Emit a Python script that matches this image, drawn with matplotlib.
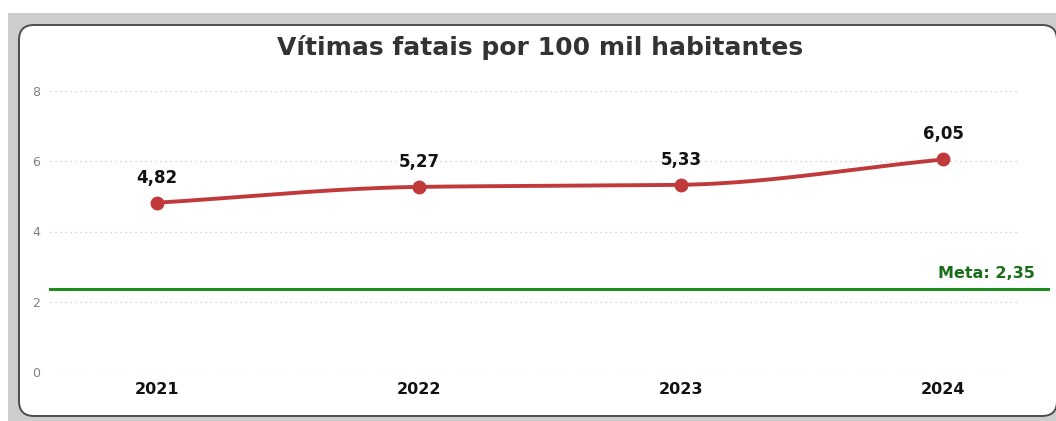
import numpy as np
import matplotlib.pyplot as plt
from matplotlib.patches import FancyBboxPatch, Rectangle

# data
anos = [2021, 2022, 2023, 2024]
vitimas = [4.82, 5.27, 5.33, 6.05]
rotulos = ['4,82', '5,27', '5,33', '6,05']
meta = 2.35
meta_txt = 'Meta: 2,35'
titulo = 'Vítimas fatais por 100 mil habitantes'
yticks = [0, 2, 4, 6, 8]

cor_linha = '#c0393b'
cor_meta = '#1e8c1e'


def monotone_curve(x, y, n=60):
    # monotone cubic (Fritsch-Carlson) between the data points, just for drawing
    x = np.asarray(x, float)
    y = np.asarray(y, float)
    h = np.diff(x)
    d = np.diff(y) / h
    m = np.zeros_like(y)
    m[0], m[-1] = d[0], d[-1]
    for i in range(1, len(y) - 1):
        if d[i - 1] * d[i] <= 0:
            m[i] = 0
        else:
            w1 = 2 * h[i] + h[i - 1]
            w2 = h[i] + 2 * h[i - 1]
            m[i] = (w1 + w2) / (w1 / d[i - 1] + w2 / d[i])
    xs, ys = [], []
    for i in range(len(x) - 1):
        t = np.linspace(0, 1, n)
        h00 = 2 * t**3 - 3 * t**2 + 1
        h10 = t**3 - 2 * t**2 + t
        h01 = -2 * t**3 + 3 * t**2
        h11 = t**3 - t**2
        xs.append(x[i] + t * h[i])
        ys.append(h00 * y[i] + h10 * h[i] * m[i] + h01 * y[i + 1] + h11 * h[i] * m[i + 1])
    return np.concatenate(xs), np.concatenate(ys)


W, H = 1056, 421
fig = plt.figure(figsize=(W / 100, H / 100), dpi=100, facecolor='white')

# grey frame and white rounded panel (cut off on the right)
fig.patches.append(Rectangle((8 / W, 0), 1, (H - 13) / H, transform=fig.transFigure,
                             facecolor='#cdcdcd', edgecolor='none', zorder=-3))
fig.patches.append(FancyBboxPatch((0.19, 0.05), 10.38, 3.91,
                                  boxstyle='round,pad=0,rounding_size=0.15',
                                  transform=fig.dpi_scale_trans,
                                  facecolor='white', edgecolor='#4d4d4d', lw=1.4, zorder=-2))

# axes: 0 -> y=372px, 8 -> y=91px ; x from 50px to 1048px
ax = fig.add_axes([50 / W, (H - 372) / H, (1048 - 50) / W, (372 - 91) / H])
ax.set_facecolor('none')
px_year = 262.0
x0 = anos[0] - (157 - 50) / px_year
x1 = anos[-1] + (1048 - 943) / px_year
ax.set_xlim(x0, x1)
ax.set_ylim(0, 8)

grid_end = anos[-1] + (1020 - 943) / px_year
ax.hlines(yticks, x0, grid_end, colors='#c8c8c8', linestyles=(0, (1, 3)), lw=0.9, zorder=0)

ax.axhline(meta, color=cor_meta, lw=2.2, zorder=1, clip_on=False)
ax.text(anos[-1] + (1035 - 943) / px_year, meta + 0.25, meta_txt, ha='right', va='bottom',
        color='#1a6e1a', fontsize=11.5, fontweight='bold')

cx, cy = monotone_curve(anos, vitimas)
ax.plot(cx, cy, color=cor_linha, lw=2.8, zorder=2, solid_capstyle='round')
ax.plot(anos, vitimas, 'o', color=cor_linha, ms=9, zorder=3, clip_on=False)

for xa, ya, lab in zip(anos, vitimas, rotulos):
    ax.annotate(lab, (xa, ya), xytext=(0, 18), textcoords='offset points',
                ha='center', va='center', fontsize=12, fontweight='bold', color='#111111')

ax.set_xticks(anos)
ax.set_xticklabels([str(a) for a in anos], fontsize=11.5, fontweight='bold', color='#111111')
ax.set_yticks(yticks)
ax.set_yticklabels([str(v) for v in yticks], fontsize=9, color='#808080')
ax.tick_params(axis='both', length=0)
ax.tick_params(axis='x', pad=7)
ax.tick_params(axis='y', pad=7)
for s in ax.spines.values():
    s.set_visible(False)

fig.text(540 / W, (H - 48) / H, titulo, ha='center', va='center',
         fontsize=18, fontweight='bold', color='#333333')

fig.savefig('out.png', dpi=100, facecolor=fig.get_facecolor())
